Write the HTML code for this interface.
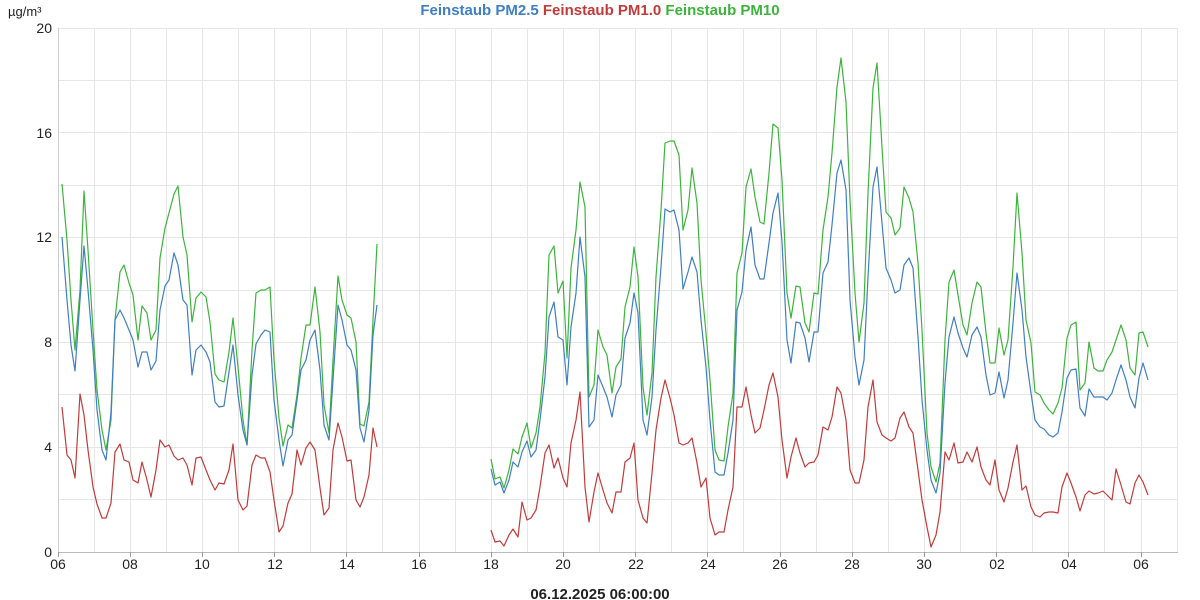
<!DOCTYPE html>
<html><head><meta charset="utf-8"><style>
body{margin:0;background:#fff;}
svg{display:block;font-family:"Liberation Sans",sans-serif;}
</style></head><body>
<svg width="1200" height="600" viewBox="0 0 1200 600">
<rect width="1200" height="600" fill="#fff"/>
<path stroke="#e6e6e6" stroke-width="1" fill="none" d="M94.5,28V552M130.5,28V552M166.5,28V552M202.5,28V552M238.5,28V552M274.5,28V552M310.5,28V552M346.5,28V552M382.5,28V552M419.5,28V552M455.5,28V552M491.5,28V552M527.5,28V552M563.5,28V552M599.5,28V552M635.5,28V552M671.5,28V552M707.5,28V552M743.5,28V552M780.5,28V552M816.5,28V552M852.5,28V552M888.5,28V552M924.5,28V552M960.5,28V552M996.5,28V552M1032.5,28V552M1068.5,28V552M1104.5,28V552M1141.5,28V552M1177.5,28V552M58,499.5H1178M58,447.5H1178M58,394.5H1178M58,342.5H1178M58,290.5H1178M58,237.5H1178M58,185.5H1178M58,132.5H1178M58,80.5H1178M58,28.5H1178"/>
<line x1="58.5" y1="28" x2="58.5" y2="552" stroke="#ccc"/>
<line x1="58" y1="552.5" x2="1178" y2="552.5" stroke="#bbb"/>
<path stroke="#999" d="M58.5,552V557M130.5,552V557M202.5,552V557M274.5,552V557M346.5,552V557M419.5,552V557M491.5,552V557M563.5,552V557M635.5,552V557M707.5,552V557M780.5,552V557M852.5,552V557M924.5,552V557M996.5,552V557M1068.5,552V557M1141.5,552V557"/>
<g font-size="14" fill="#222" text-anchor="end">
<text x="52" y="557">0</text><text x="52" y="452">4</text><text x="52" y="347">8</text>
<text x="52" y="242">12</text><text x="52" y="138">16</text><text x="52" y="33">20</text>
</g>
<g font-size="14" fill="#222" text-anchor="middle">
<text x="58" y="569">06</text><text x="130" y="569">08</text><text x="202" y="569">10</text><text x="275" y="569">12</text><text x="347" y="569">14</text><text x="419" y="569">16</text><text x="491" y="569">18</text><text x="563" y="569">20</text><text x="636" y="569">22</text><text x="708" y="569">24</text><text x="780" y="569">26</text><text x="852" y="569">28</text><text x="924" y="569">30</text><text x="997" y="569">02</text><text x="1069" y="569">04</text><text x="1141" y="569">06</text>
</g>
<text x="8" y="16" font-size="13" fill="#222">µg/m³</text>
<text x="600" y="15" font-size="15" font-weight="bold" text-anchor="middle"><tspan fill="#3f7fc2">Feinstaub PM2.5</tspan> <tspan fill="#c23b3b">Feinstaub PM1.0</tspan> <tspan fill="#3cb43c">Feinstaub PM10</tspan></text>
<text x="600" y="599" font-size="15" font-weight="bold" fill="#222" text-anchor="middle">06.12.2025 06:00:00</text>
<g fill="none" stroke-width="1.2" stroke-linejoin="round">
<polyline stroke="#3cb43c" points="62,184 67,240 71,300 75,350 80,290 84,191 88,250 93,330 97,390 102,430 106,450 111,420 115,320 120,272 124,265 129,283 133,295 138,340 142,306 147,313 151,340 156,330 160,258 165,228 169,213 174,194 178,186 183,237 187,255 192,322 196,298 201,292 206,297 210,322 215,374 219,380 224,382 229,352 233,318 238,367 243,420 247,445 252,350 256,293 261,290 265,290 270,287 274,360 279,418 283,446 288,425 292,428 297,395 301,358 306,325 310,325 315,287 320,332 324,405 329,433 333,360 338,276 342,300 347,315 351,318 356,342 360,424 364,426 369,402 373,320 377,244"/>
<polyline stroke="#3f7fc2" points="62,237 67,300 71,345 75,371 80,300 84,246 88,290 93,350 97,410 102,450 106,460 111,412 115,320 120,310 124,318 129,330 133,340 138,367 142,352 147,352 151,370 156,361 160,310 165,286 169,280 174,253 178,265 183,300 187,305 192,375 196,350 201,345 206,352 210,362 215,402 219,407 224,406 229,372 233,345 238,395 243,430 247,445 252,375 256,344 261,335 265,330 270,332 274,400 279,440 283,466 288,440 292,435 297,400 301,370 306,360 310,340 315,330 320,370 324,425 329,440 333,380 338,305 342,320 347,345 351,350 356,370 360,428 364,442 369,410 373,335 377,305"/>
<polyline stroke="#c23b3b" points="62,407 67,455 71,460 75,478 80,394 84,415 88,450 93,487 97,504 102,518 106,518 111,503 115,452 120,444 124,460 129,462 133,480 138,483 142,462 147,480 151,497 156,470 160,440 165,447 169,445 174,456 178,460 183,458 187,465 192,485 196,458 201,457 206,470 210,480 215,490 219,483 224,484 229,470 233,444 238,500 243,510 247,506 252,465 256,455 261,458 265,458 270,472 274,500 279,532 283,526 288,503 292,494 297,450 301,465 306,448 310,442 315,450 320,488 324,515 329,508 333,450 338,423 342,437 347,461 351,460 356,500 360,507 364,497 369,475 373,428 377,447"/>
<polyline stroke="#3cb43c" points="491,459 495,479 500,477 504,488 509,470 513,449 518,454 522,437 527,423 531,448 536,433 540,407 545,353 549,255 554,246 558,293 563,281 567,358 571,268 576,230 580,182 585,207 589,397 594,385 598,330 603,347 607,355 612,393 616,367 621,359 625,307 630,287 634,247 638,277 643,387 647,415 652,373 656,277 661,210 665,143 670,141 674,141 679,155 683,230 688,210 692,168 697,203 701,280 706,333 710,380 715,450 719,460 724,461 728,427 733,393 737,273 742,253 746,187 751,169 755,197 760,222 764,224 769,173 773,124 778,128 782,180 787,293 791,318 796,286 800,287 805,323 809,332 814,293 818,294 823,230 828,197 832,153 837,87 841,58 846,102 850,200 855,293 859,342 864,303 868,193 873,88 877,63 882,147 886,212 891,218 895,235 900,228 904,187 909,198 913,212 918,263 922,330 927,433 931,467 936,482 940,463 945,340 949,282 954,270 958,295 963,325 967,335 972,303 977,282 981,287 986,333 990,363 995,363 999,328 1004,355 1008,340 1013,267 1017,193 1022,253 1026,320 1031,343 1035,392 1040,395 1044,403 1049,410 1053,414 1058,403 1062,388 1067,338 1071,325 1076,322 1080,390 1085,383 1089,342 1094,368 1098,371 1103,371 1107,360 1112,352 1116,340 1121,325 1126,340 1130,368 1135,375 1139,333 1143,332 1148,347"/>
<polyline stroke="#3f7fc2" points="491,469 495,485 500,482 504,493 509,480 513,462 518,467 522,452 527,441 531,457 536,450 540,420 545,377 549,317 554,302 558,337 563,340 567,385 571,327 576,293 580,237 585,277 589,427 594,420 598,375 603,387 607,397 612,417 616,395 621,385 625,338 630,323 634,293 638,313 643,420 647,435 652,397 656,330 661,267 665,209 670,212 674,210 679,230 683,289 688,272 692,257 697,272 701,320 706,367 710,420 715,472 719,475 724,475 728,453 733,420 737,310 742,292 746,250 751,227 755,265 760,279 764,279 769,243 773,213 778,193 782,242 787,340 791,363 796,322 800,323 805,338 809,362 814,332 818,332 823,273 828,262 832,225 837,173 841,160 846,190 850,300 855,357 859,385 864,360 868,277 873,187 877,167 882,223 886,268 891,280 895,293 900,290 904,265 909,258 913,268 918,337 922,400 927,450 931,480 936,493 940,473 945,383 949,337 954,317 958,333 963,348 967,357 972,335 977,327 981,337 986,375 990,395 995,393 999,372 1004,398 1008,380 1013,323 1017,273 1022,310 1026,357 1031,393 1035,420 1040,427 1044,429 1049,435 1053,437 1058,433 1062,412 1067,378 1071,370 1076,369 1080,408 1085,416 1089,389 1094,397 1098,397 1103,397 1107,400 1112,393 1116,380 1121,365 1126,380 1130,397 1135,408 1139,378 1143,363 1148,380"/>
<polyline stroke="#c23b3b" points="491,530 495,542 500,541 504,546 509,535 513,529 518,537 522,502 527,520 531,518 536,510 540,487 545,453 549,445 554,468 558,458 563,478 567,487 571,443 576,420 580,392 585,487 589,522 594,492 598,473 603,490 607,503 612,513 616,492 621,492 625,462 630,458 634,443 638,500 643,518 647,523 652,473 656,430 661,398 665,380 670,398 674,415 679,443 683,445 688,443 692,438 697,463 701,487 706,478 710,518 715,535 719,532 724,532 728,510 733,487 737,407 742,407 746,387 751,415 755,433 760,428 764,410 769,385 773,373 778,397 782,440 787,478 791,457 796,438 800,453 805,467 809,463 814,462 818,455 823,427 828,430 832,417 837,387 841,393 846,420 850,470 855,483 859,483 864,460 868,407 873,380 877,422 882,435 886,438 891,441 895,438 900,418 904,412 909,427 913,433 918,470 922,500 927,527 931,547 936,535 940,512 945,452 949,460 954,443 958,463 963,462 967,452 972,462 977,447 981,467 986,480 990,485 995,460 999,490 1004,502 1008,488 1013,462 1017,445 1022,490 1026,486 1031,507 1035,515 1040,517 1044,513 1049,512 1053,512 1058,513 1062,487 1067,473 1071,483 1076,497 1080,511 1085,495 1089,491 1094,494 1098,493 1103,491 1107,495 1112,500 1116,469 1121,485 1126,502 1130,504 1135,483 1139,475 1143,482 1148,495"/>
</g>
</svg>
</body></html>
